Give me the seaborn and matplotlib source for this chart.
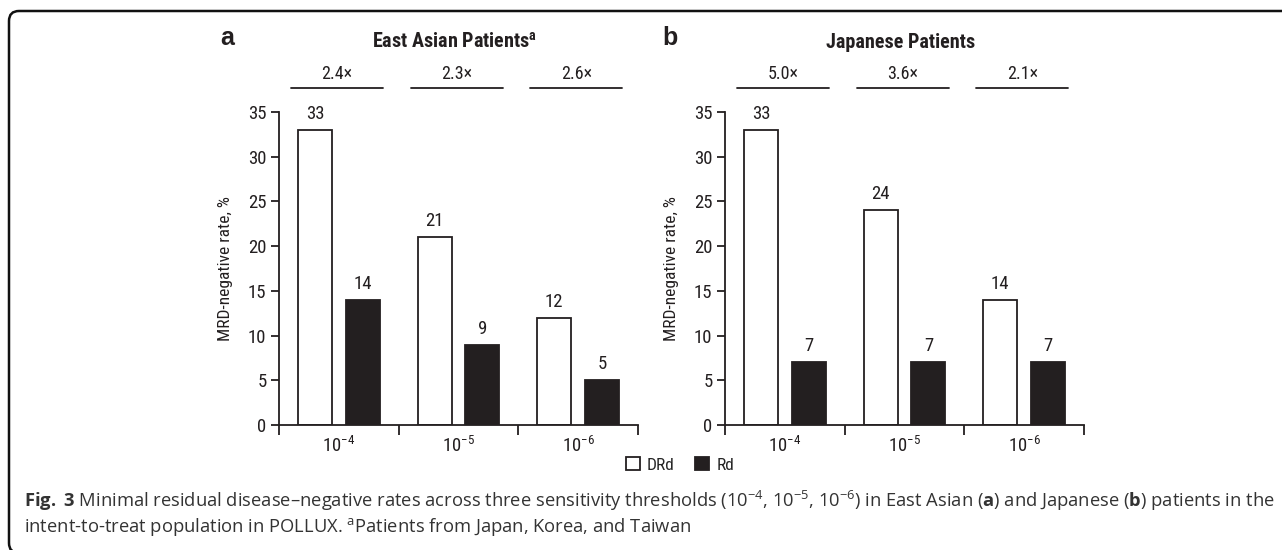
"""
MRD-negative rates, East Asian vs Japanese patients (POLLUX)
"""
import matplotlib

matplotlib.use("Agg")
import matplotlib.pyplot as plt
import pandas as pd
import seaborn as sns
from matplotlib.patches import FancyBboxPatch
from matplotlib.transforms import IdentityTransform

sns.set_theme(style="ticks")
CHART_FONT = ["Roboto Condensed", "Liberation Sans Narrow", "Roboto", "DejaVu Sans"]
plt.rcParams["font.family"] = CHART_FONT
plt.rcParams["mathtext.fontset"] = "custom"
plt.rcParams["mathtext.rm"] = "Open Sans"
plt.rcParams["mathtext.bf"] = "Open Sans:bold"

INK = "#231f20"

THRESHOLDS = [r"$\mathdefault{10^{-4}}$", r"$\mathdefault{10^{-5}}$", r"$\mathdefault{10^{-6}}$"]
TREATMENTS = ["DRd", "Rd"]

EAST_ASIAN_DRD = [33, 21, 12]
EAST_ASIAN_RD = [14, 9, 5]
EAST_ASIAN_FOLD = ["2.4×", "2.3×", "2.6×"]

JAPANESE_DRD = [33, 24, 14]
JAPANESE_RD = [7, 7, 7]
JAPANESE_FOLD = ["5.0×", "3.6×", "2.1×"]

W, H = 1282, 550


def make_frame(drd, rd):
    """long-form table for one panel"""
    return pd.DataFrame({
        "threshold": THRESHOLDS * 2,
        "treatment": ["DRd"] * len(drd) + ["Rd"] * len(rd),
        "rate": drd + rd,
    })


def draw_panel(ax, df, fold_labels, title):
    sns.barplot(
        data=df, x="threshold", y="rate", hue="treatment",
        order=THRESHOLDS, hue_order=TREATMENTS,
        palette={"DRd": "white", "Rd": INK}, saturation=1,
        edgecolor=INK, linewidth=1.3, width=0.8, gap=0.29, ax=ax,
    )
    for container in ax.containers:
        ax.bar_label(container, padding=5, fontsize=13.5, color=INK)

    ax.set_xlim(-0.5, 2.5)
    ax.set_ylim(0, 35)
    ax.set_yticks(range(0, 36, 5))
    ax.set_xticks([-0.5, 0.5, 1.5, 2.5], minor=True)
    ax.set_xlabel("")
    ax.set_ylabel("MRD-negative rate, %", fontsize=12.5, color=INK)
    ax.yaxis.set_label_coords(-0.128, 0.5)

    sns.despine(ax=ax)
    for side in ("left", "bottom"):
        ax.spines[side].set_linewidth(1.3)
        ax.spines[side].set_color(INK)
    ax.spines["left"].set_bounds(0, 35)
    ax.tick_params(axis="y", length=6, width=1.3, pad=3, labelsize=13.5,
                   color=INK, labelcolor=INK)
    ax.tick_params(axis="x", which="major", length=0, pad=8, labelsize=13.5,
                   labelcolor=INK)
    ax.tick_params(axis="x", which="minor", length=7, width=1.3, color=INK)

    # fold-change brackets over each threshold
    for i, label in enumerate(fold_labels):
        ax.plot([i - 0.40, i + 0.37], [37.7, 37.7], color=INK, lw=1.3,
                clip_on=False)
        ax.text(i - 0.015, 38.7, label, ha="center", va="baseline",
                fontsize=13, color=INK)

    ax.text(0.49, 1.205, title, transform=ax.transAxes, ha="center",
            va="baseline", fontsize=14.5, fontweight="bold", color=INK)


fig = plt.figure(figsize=(W / 100, H / 100), dpi=100)
ax_a = fig.add_axes([279 / W, 125 / H, 359 / W, 313 / H])
ax_b = fig.add_axes([725 / W, 125 / H, 359 / W, 313 / H])

draw_panel(ax_a, make_frame(EAST_ASIAN_DRD, EAST_ASIAN_RD), EAST_ASIAN_FOLD,
           r"East Asian Patients$^{\mathdefault{a}}$")
draw_panel(ax_b, make_frame(JAPANESE_DRD, JAPANESE_RD), JAPANESE_FOLD,
           "Japanese Patients")

handles, labels = ax_a.get_legend_handles_labels()
ax_a.get_legend().remove()
ax_b.get_legend().remove()
fig.legend(handles, labels, loc="center", bbox_to_anchor=(680 / W, 1 - 465 / H),
           ncol=2, frameon=False, handlelength=0.8, handleheight=0.8,
           handletextpad=0.4, columnspacing=1.2, fontsize=12.5)

fig.text(220 / W, 1 - 45 / H, "a", fontsize=18, fontweight="bold",
         family=["Liberation Sans", "DejaVu Sans"], color=INK)
fig.text(662 / W, 1 - 45 / H, "b", fontsize=18, fontweight="bold",
         family=["Liberation Sans", "DejaVu Sans"], color=INK)

caption_1 = (r"$\mathbf{Fig.}$ $\mathbf{3}$ Minimal residual disease–negative rates across "
             r"three sensitivity thresholds (10$^{\mathdefault{-4}}$, "
             r"10$^{\mathdefault{-5}}$, 10$^{\mathdefault{-6}}$) in East Asian "
             r"($\mathbf{a}$) and Japanese ($\mathbf{b}$) patients in the")
caption_2 = (r"intent-to-treat population in POLLUX. $^{\mathdefault{a}}$"
             r"Patients from Japan, Korea, and Taiwan")
fig.text(24 / W, 1 - 507 / H, caption_1, fontsize=13.2, family="Open Sans",
         va="baseline", color="#333333")
fig.text(24 / W, 1 - 532 / H, caption_2, fontsize=13.2, family="Open Sans",
         va="baseline", color="#333333")

frame = FancyBboxPatch((9, -3), 1320, 542, boxstyle="round,pad=0,rounding_size=10",
                       transform=IdentityTransform(), fill=False, lw=1.8,
                       ec="#111111")
fig.add_artist(frame)

fig.savefig("out.png", dpi=100)
